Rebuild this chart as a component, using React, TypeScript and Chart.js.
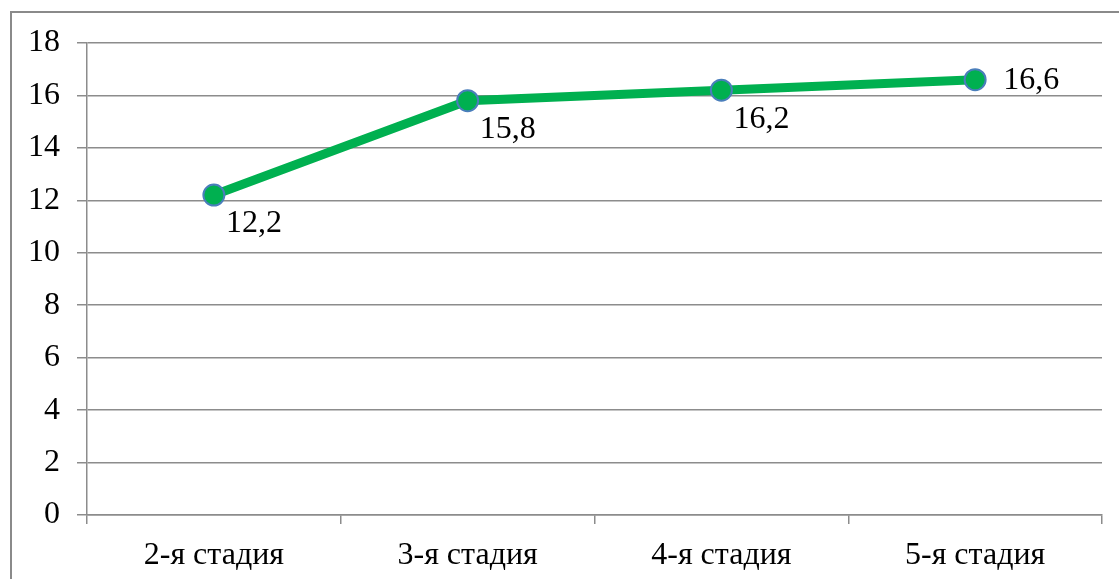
import React, { useEffect, useRef } from "react";
import { Chart, registerables } from "chart.js";

Chart.register(...registerables);

const categories = ["2-я стадия", "3-я стадия", "4-я стадия", "5-я стадия"];
const values = [12.2, 15.8, 16.2, 16.6];
const valueLabels = ["12,2", "15,8", "16,2", "16,6"];

const FONT = "'Liberation Serif', 'Times New Roman', serif";
const GRID = "#8c8c8c";
const GREEN = "#00B050";
const BLUE = "#4A7EBB";
const FS = 32;

const labelPlugin = {
  id: "valueLabels",
  afterDatasetsDraw(chart: any) {
    const ctx = chart.ctx;
    const meta = chart.getDatasetMeta(0);
    ctx.save();
    ctx.font = `${FS}px ${FONT}`;
    ctx.fillStyle = "#000";
    ctx.textAlign = "left";
    ctx.textBaseline = "middle";
    meta.data.forEach((pt: any, i: number) => {
      const last = i === meta.data.length - 1;
      const x = last ? pt.x + 28 : pt.x + 12;
      const y = last ? pt.y + 1 : pt.y + 29;
      ctx.fillText(valueLabels[i], x, y);
    });
    ctx.restore();
  },
};

export default function App() {
  const ref = useRef<HTMLCanvasElement>(null);
  useEffect(() => {
    if (!ref.current) return;
    const chart = new Chart(ref.current, {
      type: "line",
      data: {
        labels: categories,
        datasets: [
          {
            data: values,
            borderColor: GREEN,
            borderWidth: 9,
            pointRadius: 10.5,
            pointBackgroundColor: GREEN,
            pointBorderColor: BLUE,
            pointBorderWidth: 2,
            tension: 0,
          },
        ],
      },
      options: {
        responsive: false,
        animation: false,
        layout: { padding: { top: 43, right: 17, left: 0, bottom: 0 } },
        plugins: { legend: { display: false }, tooltip: { enabled: false } },
        scales: {
          x: {
            type: "category",
            offset: true,
            grid: {
              display: true,
              offset: true,
              drawOnChartArea: false,
              drawTicks: true,
              tickLength: 9,
              color: GRID,
              lineWidth: 1.5,
            },
            border: { display: true, color: GRID, width: 1.5 },
            ticks: {
              color: "#000",
              font: { family: FONT, size: FS },
              padding: 12,
              maxRotation: 0,
            },
            afterFit(scale: any) {
              scale.height = 64;
            },
          },
          y: {
            min: 0,
            max: 18,
            grid: {
              color: GRID,
              lineWidth: 1.5,
              tickLength: 10,
              drawTicks: true,
            },
            border: { display: true, color: GRID, width: 1.5 },
            ticks: {
              stepSize: 2,
              color: "#000",
              font: { family: FONT, size: FS },
              padding: 17,
            },
            afterFit(scale: any) {
              scale.width = 87;
            },
          },
        },
      },
      plugins: [labelPlugin],
    });
    return () => chart.destroy();
  }, []);

  return (
    <div
      style={{
        position: "absolute",
        left: 0,
        top: 0,
        width: 1119,
        height: 579,
        overflow: "hidden",
        background: "#fff",
      }}
    >
      <div
        style={{
          position: "absolute",
          left: 10,
          top: 11,
          width: 1300,
          height: 800,
          border: "2px solid #8a8a8a",
          background: "#fff",
        }}
      />
      <canvas
        ref={ref}
        width={1119}
        height={579}
        style={{ position: "absolute", left: 0, top: 0 }}
      />
    </div>
  );
}
